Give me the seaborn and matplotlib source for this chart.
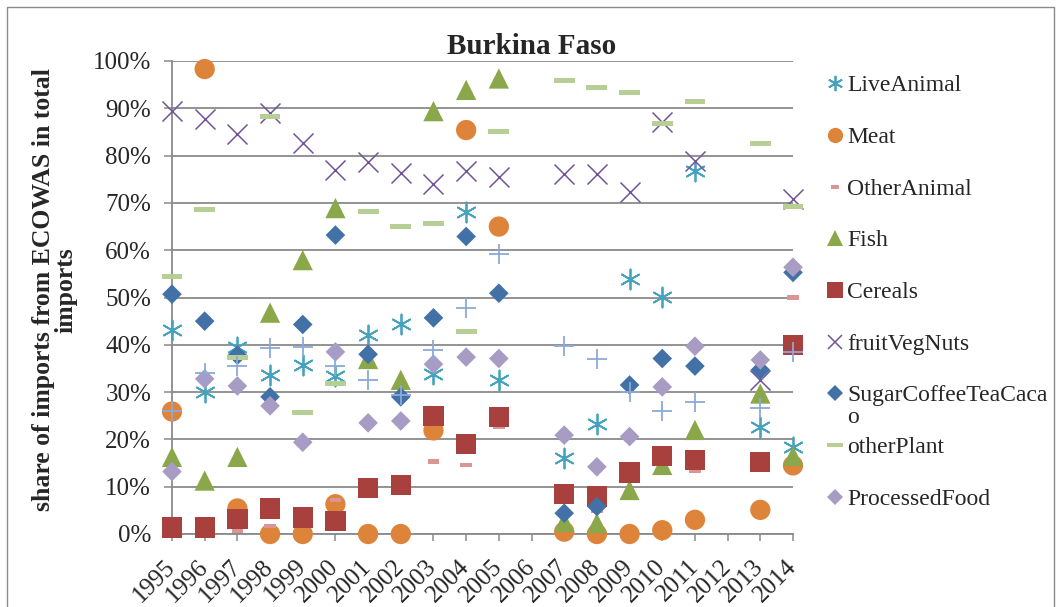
import numpy as np
import pandas as pd
import matplotlib
matplotlib.use("Agg")
import matplotlib.pyplot as plt
import seaborn as sns
from matplotlib.lines import Line2D
from matplotlib.patches import Rectangle

nan = np.nan
years = [str(y) for y in range(1995, 2015)]

# share (%) of imports from ECOWAS in total imports, 1995..2014 (2006, 2012 missing)
live_animal = [43.1, 30.1, 39.5, 33.6, 35.7, 33.3, 42.1, 44.5, 33.8, 68.1, 32.6, nan,
               16.0, 23.3, 53.9, 50.2, 76.7, nan, 22.7, 18.3]
meat = [25.9, 98.3, 5.4, 0.0, 0.0, 6.3, 0.0, 0.0, 21.9, 85.4, 65.0, nan,
        0.5, 0.0, 0.0, 0.8, 3.0, nan, 5.1, 14.5]
other_animal = [nan, nan, 0.8, 1.7, nan, 7.2, nan, nan, 15.4, 14.6, 22.8, nan,
                nan, 4.9, 8.0, nan, 13.5, nan, 15.5, 50.0]
fish = [16.3, 11.3, 16.3, 46.8, 57.9, 68.9, 37.0, 32.6, 89.4, 93.9, 96.3, nan,
        2.6, 2.3, 9.3, 14.6, 22.0, nan, 29.7, 16.5]
cereals = [1.4, 1.4, 3.1, 5.4, 3.5, 2.8, 9.7, 10.4, 25.0, 19.0, 24.8, nan,
           8.5, 7.9, 13.0, 16.5, 15.6, nan, 15.2, 40.0]
fruit_veg_nuts = [89.4, 87.7, 84.5, 89.1, 82.7, 77.0, 78.7, 76.3, 74.0, 76.7, 75.4, nan,
                  76.1, 76.1, 72.2, 87.2, 78.9, nan, 32.6, 70.8]
sugar_coffee = [50.7, 45.0, 37.8, 29.0, 44.3, 63.2, 38.0, 29.0, 45.7, 62.9, 50.9, nan,
                4.4, 5.8, 31.5, 37.1, 35.5, nan, 34.7, 55.3]
other_plant = [54.4, 68.7, 37.3, 88.2, 25.7, 31.9, 68.1, 65.1, 65.7, 42.9, 85.0, nan,
               95.8, 94.4, 93.4, 86.8, 91.5, nan, 82.5, 69.2]
processed_food = [13.2, 32.8, 31.3, 27.1, 19.4, 38.5, 23.5, 23.9, 35.9, 37.4, 37.1, nan,
                  20.9, 14.2, 20.6, 31.1, 39.7, nan, 36.8, 56.4]
other_food = [25.9, 34.0, 35.6, 39.4, 39.6, 35.6, 32.6, 29.4, 38.9, 47.7, 59.2, nan,
              39.7, 36.9, 30.1, 26.0, 28.0, nan, 26.6, 38.5]

yticks = [0, 10, 20, 30, 40, 50, 60, 70, 80, 90, 100]
ytick_labels = [f"{v}%" for v in yticks]

sns.set_theme(style="white")
plt.rcParams['font.family'] = ['Liberation Serif', 'DejaVu Serif']

W, H = 1061, 607
fig = plt.figure(figsize=(W / 100, H / 100), dpi=100)
L, R, T, B = 172, 793, 61, 534
ax = fig.add_axes([L / W, 1 - B / H, (R - L) / W, (B - T) / H])

dash_big = [(-1, -0.24), (1, -0.24), (1, 0.24), (-1, 0.24), (-1, -0.24)]
dash_small = [(-1, -0.42), (1, -0.42), (1, 0.42), (-1, 0.42), (-1, -0.42)]
asterisk = (6, 2, 0)

# name, values, marker, color, size(pt), filled, linewidth, legend size
series = [
    ("LiveAnimal", live_animal, asterisk, "#45A3BE", 14.4, False, 1.3, 11),
    ("Meat", meat, "o", "#DE833A", 14.6, True, 0, 11),
    ("OtherAnimal", other_animal, dash_small, "#D99694", 8.2, True, 0, 6),
    ("Fish", fish, "^", "#8AA84A", 14.6, True, 0, 11),
    ("Cereals", cereals, "s", "#A8413E", 14.6, True, 0, 11),
    ("fruitVegNuts", fruit_veg_nuts, "x", "#72549A", 14.4, False, 1.1, 10),
    ("SugarCoffeeTeaCaca\no", sugar_coffee, "D", "#4271A8", 10.0, True, 0, 8),
    ("otherPlant", other_plant, dash_big, "#B7CF95", 15.0, True, 0, 11),
    ("ProcessedFood", processed_food, "D", "#A89BC4", 10.0, True, 0, 8),
    ("OtherFood", other_food, "+", "#8DA9D8", 13.8, False, 1.3, 10),
]

xpos = np.arange(len(years))
for i, (name, vals, marker, color, size, filled, lw, _) in enumerate(series):
    df = pd.DataFrame({"x": xpos, "y": vals}).dropna()
    kw = dict(edgecolor="none", linewidth=0) if filled else dict(linewidth=lw)
    sns.scatterplot(data=df, x="x", y="y", marker=marker, color=color, s=size ** 2,
                    ax=ax, legend=False, clip_on=False, zorder=3 + i, **kw)

grid_c = "#8A8A8A"
ax.set_xlim(0, len(years) - 1)
ax.set_ylim(0, 100)
ax.set_yticks(yticks)
ax.set_yticklabels(ytick_labels)
ax.set_xticks(xpos)
ax.set_xticklabels(years, rotation=45, ha="right", va="center", rotation_mode="anchor")
ax.set_xlabel("")
ax.set_ylabel("")
ax.yaxis.grid(True, color=grid_c, linewidth=1.3)
ax.xaxis.grid(False)
ax.set_axisbelow(True)
for side in ["top", "right"]:
    ax.spines[side].set_visible(False)
for side in ["left", "bottom"]:
    ax.spines[side].set_color(grid_c)
    ax.spines[side].set_linewidth(1.3)
ax.tick_params(axis="y", length=6, width=1.1, color=grid_c, pad=9, labelsize=18, left=True)
ax.tick_params(axis="x", length=5, width=1.1, color=grid_c, pad=16, labelsize=18, bottom=True)
ax.patch.set_alpha(0)

fig.text(532 / W, 1 - 54 / H, "Burkina Faso", ha="center", va="baseline",
         fontsize=21, fontweight="bold")
fig.text(55 / W, 1 - 290 / H, "share of imports from ECOWAS in total\nimports",
         rotation=90, ha="center", va="center", multialignment="center",
         fontsize=18.5, fontweight="bold", linespacing=0.95)

# legend (first nine series)
leg_y = [83, 135, 187, 238, 290, 342, 393, 445, 497]
for (name, vals, marker, color, size, filled, lw, lsize), yy in zip(series[:9], leg_y):
    fig.add_artist(Line2D([835 / W], [1 - yy / H], transform=fig.transFigure,
                          marker=marker, markersize=lsize, color=color, linestyle="none",
                          markeredgewidth=(0 if filled else lw)))
    for k, line in enumerate(name.split("\n")):
        fig.text(847 / W, 1 - (yy + 8 + 22 * k) / H, line, ha="left", va="baseline",
                 fontsize=17)

fig.add_artist(Rectangle((7 / W, -0.05), (1054 - 7) / W, 1.05 - 7 / H,
                         transform=fig.transFigure, fill=False, edgecolor="#8A8A8A",
                         linewidth=1.0))

fig.savefig("out.png", dpi=100)
